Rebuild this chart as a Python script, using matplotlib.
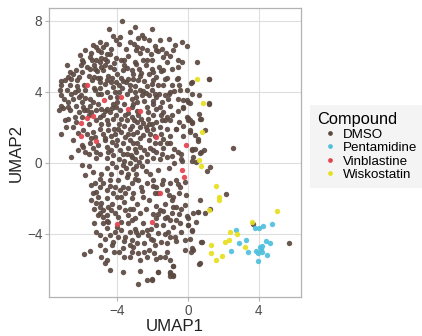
import matplotlib
matplotlib.use("Agg")
import matplotlib.pyplot as plt
from matplotlib.lines import Line2D

plt.rcParams['font.family'] = ['Liberation Sans', 'DejaVu Sans']

categories = ["DMSO", "Pentamidine", "Vinblastine", "Wiskostatin"]
colors = ["#5c4a42", "#4fbfdd", "#e4434d", "#e6df1e"]

dmso_pts = [
    (-3.73, 7.96), (-4.46, 7.53), (-3.01, 7.64), (-3.30, 7.36), (-2.02, 7.53), (-4.24, 7.13), (-3.86, 7.08),
    (-2.60, 7.21), (-2.51, 7.04), (-2.86, 7.04), (-1.07, 6.98), (-0.32, 6.80), (-0.04, 6.55), (-0.75, 6.65),
    (-3.07, 6.67), (-4.65, 6.67), (-4.80, 6.52), (-5.37, 6.65), (-5.22, 6.52), (-5.84, 6.33), (-5.07, 6.37),
    (-4.95, 6.24), (-4.33, 6.42), (-4.43, 6.14), (-3.52, 6.42), (-2.92, 6.33), (-2.58, 6.46), (-2.30, 6.33),
    (-1.79, 6.33), (-1.68, 6.29), (-1.45, 6.42), (-1.26, 6.18), (-0.85, 6.37), (-6.12, 6.05), (-5.97, 5.81),
    (-5.56, 5.96), (-5.41, 5.77), (-5.18, 5.81), (-4.99, 5.67), (-4.71, 5.86), (-4.56, 5.73), (-3.77, 5.77),
    (-3.62, 5.81), (-2.94, 5.58), (-2.54, 5.77), (-2.35, 5.77), (-2.02, 5.81), (-1.41, 5.96), (-0.56, 5.77),
    (-0.32, 5.67), (0.51, 5.66), (-6.87, 5.49), (-6.69, 5.11), (-6.35, 5.21), (-6.03, 5.49), (-5.93, 5.67),
    (-5.74, 5.39), (-5.52, 5.30), (-5.27, 5.30), (-5.14, 5.15), (-4.90, 5.39), (-4.80, 5.21), (-4.43, 5.39),
    (-4.18, 5.30), (-4.01, 5.02), (-3.67, 5.21), (-3.48, 5.36), (-3.20, 5.21), (-3.14, 5.02), (-2.77, 5.30),
    (-2.64, 5.06), (-2.07, 5.30), (-1.98, 5.11), (-1.64, 5.39), (-1.54, 5.17), (-1.22, 4.79), (-0.60, 4.79),
    (0.19, 4.55), (1.19, 4.74), (-7.16, 4.59), (-6.97, 4.64), (-6.78, 4.83), (-6.59, 4.74), (-6.27, 4.64),
    (-6.16, 4.83), (-5.89, 4.36), (-5.44, 4.64), (-5.33, 4.83), (-4.99, 4.79), (-4.99, 4.55), (-4.71, 4.46),
    (-4.58, 4.64), (-4.33, 4.55), (-4.24, 4.27), (-4.05, 4.55), (-3.90, 4.36), (-3.71, 4.23), (-3.52, 4.55),
    (-3.39, 4.74), (-3.11, 4.74), (-2.82, 4.64), (-2.07, 4.46), (-1.98, 4.64), (-1.79, 4.83), (-1.41, 4.36),
    (-0.94, 4.36), (-0.47, 4.12), (-0.09, 4.08), (-7.25, 4.08), (-7.19, 3.80), (-6.87, 4.08), (-6.59, 3.90),
    (-6.40, 3.99), (-6.16, 3.71), (-6.03, 3.84), (-5.84, 3.67), (-5.56, 3.61), (-5.27, 4.12), (-5.12, 3.90),
    (-4.90, 3.86), (-4.43, 3.71), (-4.14, 3.99), (-4.01, 3.71), (-3.48, 3.86), (-3.26, 4.08), (-3.01, 3.99),
    (-2.92, 3.71), (-2.73, 4.12), (-2.54, 4.04), (-2.39, 3.93), (-2.20, 3.80), (-2.07, 4.08), (-1.79, 3.71),
    (-1.64, 3.90), (-1.32, 3.80), (-1.13, 3.61), (-0.81, 4.03), (-0.28, 3.52), (0.24, 3.90), (1.19, 3.33),
    (-7.19, 3.18), (-7.06, 3.11), (-6.78, 3.15), (-6.69, 2.96), (-6.31, 3.18), (-6.16, 2.87), (-5.93, 3.15),
    (-5.74, 2.96), (-5.56, 3.18), (-5.46, 2.87), (-5.08, 3.33), (-4.93, 3.05), (-4.61, 3.05), (-4.43, 2.87),
    (-4.24, 3.33), (-4.05, 3.15), (-3.86, 2.96), (-3.20, 3.15), (-3.11, 3.33), (-2.35, 3.15), (-2.26, 2.87),
    (-1.98, 3.30), (-1.83, 3.05), (-1.60, 3.15), (-1.41, 2.87), (-0.28, 3.11), (0.00, 3.43), (-6.97, 2.43),
    (-6.78, 2.49), (-6.40, 2.58), (-6.31, 2.30), (-5.59, 2.68), (-5.18, 2.40), (-4.99, 2.58), (-4.80, 2.68),
    (-4.61, 2.40), (-4.52, 2.17), (-4.24, 2.49), (-4.05, 2.68), (-3.77, 2.49), (-3.58, 2.68), (-3.48, 2.40),
    (-3.20, 2.58), (-3.05, 2.40), (-2.82, 2.68), (-2.64, 2.49), (-2.54, 2.25), (-2.26, 2.49), (-2.07, 2.21),
    (-1.79, 2.30), (-1.51, 2.68), (-1.04, 2.40), (-0.09, 2.58), (0.00, 2.40), (0.19, 2.25), (0.62, 2.77),
    (0.66, 2.49), (-6.50, 2.02), (-7.16, 1.61), (-5.93, 1.84), (-5.71, 1.65), (-5.37, 1.74), (-5.27, 1.46),
    (-4.99, 1.93), (-4.80, 1.65), (-4.52, 1.84), (-4.37, 1.50), (-4.14, 1.65), (-3.96, 1.93), (-3.77, 1.74),
    (-3.58, 1.46), (-3.30, 1.93), (-3.11, 1.65), (-2.88, 1.74), (-2.73, 2.02), (-2.54, 1.55), (-2.35, 1.84),
    (-2.17, 1.65), (-1.98, 1.93), (-1.51, 1.65), (-1.41, 1.37), (-0.66, 1.93), (0.09, 1.84), (0.38, 1.55),
    (0.53, 1.37), (-6.59, 0.34), (-6.21, 0.71), (-5.93, 0.90), (-5.84, 0.62), (-5.56, 1.09), (-5.37, 0.81),
    (-5.08, 0.99), (-4.99, 0.52), (-4.71, 1.27), (-4.61, 0.90), (-4.33, 0.71), (-4.24, 0.43), (-4.05, 0.99),
    (-3.86, 0.71), (-3.67, 1.09), (-3.48, 0.52), (-3.39, 0.81), (-3.20, 0.34), (-3.11, 1.09), (-2.92, 0.62),
    (-2.73, 0.90), (-2.64, 0.34), (-2.35, 0.52), (-2.17, 0.81), (-1.88, 1.09), (-1.79, 0.62), (-1.41, 0.81),
    (-1.22, 0.34), (-1.04, 1.09), (-0.38, 0.52), (0.19, 0.71), (0.28, 0.34), (0.75, 0.62),
    (-5.84, -0.69), (-5.46, -1.25), (-5.27, -1.16), (-5.37, -1.72), (-5.18, -1.63), (-4.99, -1.35),
    (-4.80, -1.16), (-5.08, -1.91), (-4.90, -2.28), (-4.99, -2.47), (-4.80, -2.66), (-5.08, -2.94),
    (-4.80, -3.03), (-4.61, -1.54), (-4.43, -0.97), (-4.33, -0.60), (-4.24, -1.72), (-4.14, -1.35),
    (-3.96, -0.97), (-3.86, -1.54), (-3.77, -1.91), (-3.67, -1.35), (-3.58, -1.72), (-3.48, -0.79),
    (-3.39, -0.60), (-3.20, -1.16), (-3.11, -1.72), (-2.92, -0.60), (-2.82, -0.97), (-2.64, -1.35),
    (-2.54, -1.91), (-2.35, -1.16), (-2.17, -0.60), (-1.98, -0.97), (-1.79, -1.35), (-1.69, -1.72),
    (-1.41, -0.97), (-1.22, -1.54), (-1.04, -1.16), (-0.85, -1.91), (-0.66, -0.97), (-0.47, -1.35),
    (-0.19, -1.07), (-0.13, -1.82), (-0.85, -2.47), (-0.66, -2.47), (-0.38, -2.57), (-0.19, -2.38),
    (0.00, -3.13), (0.28, -2.85), (0.56, -2.75), (0.66, -2.10), (0.75, -4.44), (0.66, -5.66),
    (-5.18, -2.28), (-4.99, -2.85), (-4.61, -2.94), (-4.52, -3.31), (-4.33, -2.66), (-4.14, -2.85),
    (-3.96, -3.03), (-3.77, -3.31), (-3.58, -2.66), (-3.39, -2.94), (-3.11, -2.57), (-3.01, -3.13),
    (-2.73, -2.85), (-2.54, -3.41), (-1.79, -3.13), (-1.60, -2.66), (-1.41, -3.50), (-1.22, -3.03),
    (-0.94, -2.85), (-0.85, -3.60), (-0.47, -3.41), (-0.38, -3.88), (0.00, -3.50), (0.19, -3.78),
    (-5.18, -3.88), (-4.99, -4.06), (-4.61, -3.69), (-4.43, -4.06), (-4.14, -3.88), (-3.96, -4.16),
    (-3.77, -3.78), (-3.58, -4.16), (-3.30, -3.88), (-3.20, -4.34), (-2.92, -3.88), (-2.82, -4.06),
    (-2.35, -3.78), (-2.26, -4.06), (-1.98, -4.34), (-1.69, -3.97), (-1.51, -4.44), (-1.13, -3.88),
    (-1.04, -4.16), (-0.19, -4.34), (0.19, -4.81), (-5.88, -5.13), (-5.52, -4.94), (-4.99, -4.63),
    (-4.90, -5.28), (-4.71, -4.91), (-4.61, -5.47), (-4.40, -6.03), (-4.24, -4.44), (-3.67, -4.81),
    (-3.63, -5.28), (-3.30, -5.28), (-3.11, -4.72), (-2.82, -5.09), (-2.73, -5.47), (-2.35, -5.28),
    (-2.20, -4.91), (-1.94, -5.06), (-1.60, -5.28), (-1.22, -5.00), (-1.04, -5.47), (-3.67, -6.14),
    (-2.73, -6.10), (-2.32, -6.58), (-2.05, -6.58), (-2.82, -6.81), (-1.69, -6.14), (-1.03, -6.16),
    (-1.00, -6.37), (-0.83, -6.35), (-0.88, -5.79), (-4.70, -5.65),
    (1.19, 4.74), (0.15, 4.49), (-0.62, 4.74), (0.62, 3.80), (1.19, 3.34), (0.10, 3.34), (-0.06, 3.56),
    (-0.28, 3.15), (0.70, 2.49), (0.02, 2.55), (0.12, 2.40), (0.22, 2.30), (-1.32, 2.40), (-0.69, 1.93),
    (0.10, 1.74), (0.94, 1.87), (0.56, 1.22), (2.51, 0.84), (0.19, 0.77), (0.38, 0.77), (0.66, 0.58),
    (0.89, 0.71), (0.23, 0.10), (0.42, 0.02), (1.23, -0.22), (1.07, -0.47), (-0.41, 0.19), (-0.34, 0.10),
    (2.13, -1.78), (1.26, -2.60), (0.98, -2.84), (0.53, -2.77), (0.47, -3.31), (-0.06, -2.99),
    (0.00, -3.50), (0.19, -3.84), (-1.84, -2.43), (-1.32, -3.12), (-0.75, -4.16), (-1.28, -5.28),
    (-1.69, -6.12), (-0.88, -5.79), (-1.03, -6.21), (-0.85, -6.31), (-2.03, -6.55), (3.69, -3.46),
    (0.79, -4.46), (0.62, -5.67), (5.71, -4.53), (-0.17, -4.90), (0.14, -5.00), (0.25, -4.90), (0.10, -4.30),
    (-3.90, 0.20), (-3.60, 0.10), (-3.30, 0.00), (-3.00, 0.20), (-2.80, 0.05), (-3.50, -0.30), (-3.10, -0.35),
    (-2.60, -0.20), (-4.30, 0.00), (-4.60, -0.30), (-2.30, 0.10), (-2.00, 0.30), (-1.60, 0.20), (-1.70, -0.40),
    (-5.20, 0.30), (-5.60, -0.20), (-4.90, -0.60), (-3.80, -0.50), (-2.40, -0.45), (-1.10, -0.30),
    (-0.80, 0.00), (-6.00, -0.10), (-3.70, -0.10), (-3.25, 0.45), (-2.95, -0.15), (-4.05, -0.25),
    (-4.90, 5.90), (-4.20, 5.60), (-3.40, 6.00), (-2.90, 6.50), (-2.20, 6.90), (-1.60, 6.90), (-3.90, 6.70),
    (-5.50, 6.20), (-4.50, 4.90), (-3.80, 4.80), (-2.40, 5.50), (-1.20, 5.70), (-0.90, 5.30), (-5.30, 4.20),
    (-6.30, 4.30), (-6.70, 4.40), (-3.00, 4.30), (-2.50, 4.60), (-1.70, 4.40), (-1.00, 4.00),
    (-4.00, 3.40), (-3.60, 3.30), (-2.90, 3.40), (-2.50, 3.50), (-2.00, 3.50), (-1.50, 3.40), (-1.00, 3.20),
    (-0.60, 2.90), (-5.40, 3.40), (-6.00, 3.40), (-6.50, 3.60), (-4.70, 2.90), (-3.90, 2.20), (-3.20, 2.10),
    (-2.40, 2.00), (-1.60, 2.00), (-1.20, 1.90), (-0.90, 2.70), (-5.60, 2.20), (-6.50, 1.30), (-6.00, 1.00),
    (-4.30, 1.20), (-3.30, 1.30), (-2.90, 1.10), (-2.20, 1.30), (-1.60, 1.10), (-1.00, 1.50), (-0.60, 0.60),
    (-0.30, 1.50), (-5.60, 0.50), (-4.60, 0.30), (-6.90, 2.00), (-7.30, 3.00), (-7.20, 4.40),
    (-4.60, -2.00), (-4.30, -2.30), (-3.60, -2.20), (-3.20, -2.00), (-2.90, -2.30), (-2.20, -2.10),
    (-1.90, -1.70), (-1.30, -2.30), (-0.90, -2.10), (-0.50, -1.70), (-5.50, -2.10), (-4.60, -3.30),
    (-3.40, -3.40), (-3.00, -3.70), (-2.10, -3.70), (-1.70, -2.90), (-1.00, -3.20), (-0.50, -2.90),
    (-4.30, -4.60), (-3.30, -4.60), (-2.50, -4.50), (-1.90, -4.60), (-0.70, -4.40), (-5.30, -3.40),
    (-3.90, -5.00),
    (-5.00, 6.80), (-4.10, 6.90), (-3.30, 6.80), (-2.70, 6.20), (-2.10, 6.10), (-1.90, 6.60), (-4.60, 6.10),
    (-5.30, 5.50), (-4.70, 5.50), (-4.10, 5.90), (-3.60, 5.50), (-3.00, 5.70), (-2.70, 4.90), (-2.20, 5.00),
    (-1.40, 5.20), (-0.60, 5.40), (-1.00, 6.00), (-6.50, 5.00), (-6.00, 5.10), (-5.60, 4.90), (-5.10, 4.80),
    (-4.30, 4.80), (-3.70, 4.60), (-3.30, 4.40), (-2.30, 4.30), (-1.30, 4.70), (-0.50, 4.40), (-6.20, 4.10),
    (-5.80, 4.10), (-5.00, 4.20), (-4.60, 4.00), (-3.90, 4.00), (-3.20, 3.60), (-2.60, 3.80), (-1.90, 3.90),
    (-1.10, 3.90), (-0.60, 3.60), (-7.00, 3.60), (-6.80, 3.40), (-5.90, 3.00), (-5.20, 3.00), (-4.30, 3.10),
    (-3.40, 2.80), (-2.90, 2.90), (-2.00, 2.70), (-1.20, 2.60), (-0.50, 2.30), (-6.00, 2.60), (-4.90, 2.20),
    (-4.20, 1.90), (-3.60, 2.10), (-2.90, 2.30), (-2.20, 2.20), (-1.50, 2.40), (-0.30, 2.10), (-6.20, 1.70),
    (-5.50, 1.40), (-4.70, 1.40), (-4.00, 1.30), (-3.40, 1.60), (-2.70, 1.40), (-1.90, 1.50), (-1.20, 1.10),
    (-0.80, 0.80), (-5.20, 0.60), (-4.50, 0.60), (-3.70, 0.50), (-3.00, 0.80), (-2.50, 0.70), (-2.00, 0.70),
    (-1.50, 0.50), (-0.90, 0.40),
    (-5.40, -0.50), (-5.00, -0.90), (-4.40, -1.30), (-4.00, -1.90), (-3.40, -1.40), (-3.00, -0.90),
    (-2.60, -1.60), (-2.00, -1.30), (-1.50, -1.20), (-1.10, -1.80), (-0.60, -1.20), (-5.30, -2.60),
    (-4.50, -2.50), (-3.90, -2.50), (-3.30, -2.60), (-2.40, -2.60), (-2.00, -2.90), (-1.40, -2.70),
    (-0.70, -3.20), (-4.80, -3.40), (-4.00, -3.60), (-3.20, -3.20), (-2.60, -3.90), (-1.80, -3.50),
    (-1.30, -4.00), (-4.70, -4.30), (-3.60, -4.40), (-2.90, -4.50), (-2.10, -4.30), (-1.20, -4.50),
    (-4.20, -5.00), (-3.20, -5.00), (-2.50, -5.00), (-1.80, -5.40),
]

pentamidine_pts = [
    (3.77, -3.69), (4.01, -3.65), (4.24, -3.54), (4.71, -3.44), (2.69, -3.78), (2.88, -4.53), (3.26, -4.36),
    (3.39, -5.03), (2.40, -4.94), (4.39, -4.38), (4.62, -4.49), (4.18, -4.66), (4.11, -4.85), (4.20, -5.00),
    (3.82, -4.94), (3.95, -5.06), (4.46, -5.20), (3.95, -5.52), (4.05, -4.75),
]

vinblastine_pts = [
    (-5.69, 4.40), (-4.75, 3.56), (-3.79, 3.69), (-3.41, 3.03), (-2.73, 2.92), (-6.03, 2.25), (-5.74, 2.55),
    (-5.37, 2.62), (-6.06, 1.52), (-5.18, 1.24), (-1.83, 1.46), (-0.13, 0.99), (-0.34, -0.41), (-0.24, -0.79),
    (-1.60, -1.72), (-2.07, -3.31), (-4.01, -3.46),
]

wiskostatin_pts = [
    (0.51, 4.74), (0.85, 3.34), (0.79, 1.71), (0.59, 0.15), (0.75, -0.15), (1.55, -1.31), (1.75, -1.91),
    (1.75, -2.10), (1.19, -2.66), (5.03, -2.71), (3.58, -3.35), (2.36, -3.91), (2.77, -4.02), (2.32, -4.34),
    (2.07, -4.47), (3.20, -4.72), (1.27, -4.62), (1.27, -5.09), (1.60, -5.48), (1.92, -5.24),
]

x_ticks = [-4, 0, 4]
y_ticks = [-4, 0, 4, 8]

fig = plt.figure(figsize=(4.22, 3.36), dpi=100)
ax = fig.add_axes([0.117, 0.116, 0.596, 0.860])

series = [dmso_pts, pentamidine_pts, vinblastine_pts, wiskostatin_pts]
for pts, col in zip(series, colors):
    xs = [p[0] for p in pts]
    ys = [p[1] for p in pts]
    ax.scatter(xs, ys, s=15, c=col, alpha=0.92, linewidths=0, zorder=3)

ax.set_xlim(-7.84, 6.37)
ax.set_ylim(-7.55, 8.71)
ax.set_xticks(x_ticks)
ax.set_yticks(y_ticks)
ax.set_xticklabels(["\u22124", "0", "4"])
ax.set_yticklabels(["\u22124", "0", "4", "8"])
ax.grid(True, color="#dedede", linewidth=0.8, zorder=0)
ax.set_axisbelow(True)
for sp in ax.spines.values():
    sp.set_color("#b3b3b3")
    sp.set_linewidth(0.9)
ax.tick_params(axis="both", length=3, width=0.8, color="#b3b3b3", labelsize=9.8,
               labelcolor="#4d4d4d", pad=2)
ax.set_xlabel("UMAP1", fontsize=12.2, color="#222222", labelpad=1)
ax.set_ylabel("UMAP2", fontsize=12.2, color="#222222", labelpad=2)

handles = [Line2D([0], [0], marker="o", linestyle="", markersize=3.4, markerfacecolor=c,
                  markeredgewidth=0, color=c) for c in colors]
leg = fig.legend(handles, categories, title="Compound", loc="upper left",
                 bbox_to_anchor=(0.735, 0.6875), frameon=True, fontsize=9.6,
                 title_fontsize=11.8, handletextpad=0.1, handlelength=1.8,
                 borderpad=0.55, labelspacing=0.08, alignment="left", borderaxespad=0)
leg.get_frame().set_facecolor("#f2f2f2")
leg.get_frame().set_edgecolor("none")
leg.get_frame().set_boxstyle("square", pad=0)

fig.savefig("out.png", dpi=100)
